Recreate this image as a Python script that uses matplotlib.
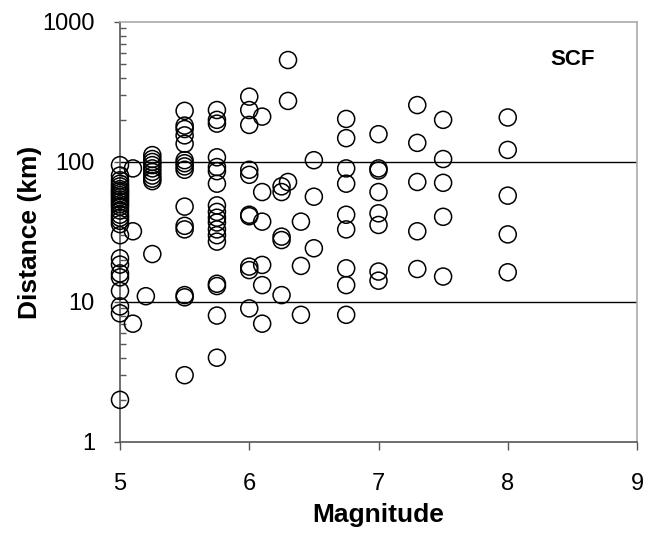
import matplotlib
matplotlib.use("Agg")
import matplotlib.pyplot as plt
from matplotlib.ticker import LogLocator, NullFormatter, FixedLocator

plt.rcParams['font.family'] = ['Liberation Sans', 'DejaVu Sans']

# magnitude columns and the distances (km)
m50 = [95, 80, 74, 70, 67, 64, 62, 60, 58, 56, 54, 52, 50, 48, 45, 42, 40, 38,
       36, 30, 20.5, 18.5, 16, 15, 12, 9.3, 8.3, 2]
m51 = [90, 32, 7]
m52 = [11]
m525 = [112, 105, 100, 95, 90, 85, 80, 76, 73, 22]
m55 = [232, 182, 172, 155, 135, 103, 98, 93, 88, 48, 35, 33, 11.2, 10.8, 3]
m575 = [235, 200, 188, 108, 92, 86, 70, 49, 44, 40, 37, 33, 30, 27, 13.5, 13, 8, 4]
m60 = [293, 235, 184, 88, 81, 42, 41, 17.9, 16.9, 9]
m61 = [211, 61, 37.5, 18.4, 13.2, 7]
m625 = [67, 61, 29.3, 27.7, 11.2]
m63 = [535, 273, 72]
m64 = [37.5, 18.1, 8.1]
m65 = [103, 56.5, 24.2]
m675 = [203, 148, 90, 70, 42, 33, 17.4, 13.2, 8.1]
m70 = [158, 90, 87, 61, 43, 35.5, 16.5, 14.2]
m73 = [255, 137, 72, 32, 17.2]
m75 = [200, 105, 71, 40.6, 15.2]
m80 = [208, 122, 57.5, 30.4, 16.3]

groups = [(5.0, m50), (5.1, m51), (5.2, m52), (5.25, m525), (5.5, m55),
          (5.75, m575), (6.0, m60), (6.1, m61), (6.25, m625), (6.3, m63),
          (6.4, m64), (6.5, m65), (6.75, m675), (7.0, m70), (7.3, m73),
          (7.5, m75), (8.0, m80)]

mag = []
dist = []
for m, ds in groups:
    for d in ds:
        mag.append(m)
        dist.append(d)

fig = plt.figure(figsize=(6.5, 5.34), dpi=100)
ax = fig.add_axes([120/650, 1 - 442/534, 517/650, 420/534])

ax.set_yscale('log')
ax.set_xlim(5, 9)
ax.set_ylim(1, 1000)

for g in [10, 100]:
    ax.axhline(g, color='black', lw=1, zorder=1)

ax.scatter(mag, dist, s=150, facecolors='none', edgecolors='black',
           linewidths=1.1, zorder=3, clip_on=False)

ax.xaxis.set_major_locator(FixedLocator([5, 6, 7, 8, 9]))
ax.yaxis.set_major_locator(FixedLocator([1, 10, 100, 1000]))
ax.set_yticklabels(['1', '10', '100', '1000'])
ax.yaxis.set_minor_locator(LogLocator(base=10, subs=range(2, 10)))
ax.yaxis.set_minor_formatter(NullFormatter())

ax.tick_params(axis='x', which='major', direction='out', length=6,
               width=1, color='#555555', labelsize=17, pad=16)
ax.tick_params(axis='y', which='major', direction='out', length=4,
               width=1, color='#555555', labelsize=17, pad=14)
ax.tick_params(axis='y', which='minor', direction='in', length=4,
               width=1, color='#555555')

for s in ['left', 'bottom']:
    ax.spines[s].set_color('#555555')
    ax.spines[s].set_linewidth(1.2)
for s in ['top', 'right']:
    ax.spines[s].set_color('#aaaaaa')
    ax.spines[s].set_linewidth(1.2)

ax.set_xlabel('Magnitude', fontsize=19, fontweight='bold', labelpad=6)
ax.set_ylabel('Distance (km)', fontsize=19, fontweight='bold', labelpad=0)

ax.text(0.876, 0.91, 'SCF', transform=ax.transAxes, fontsize=16,
        fontweight='bold', ha='center', va='center')

fig.savefig('out.png', dpi=100)
